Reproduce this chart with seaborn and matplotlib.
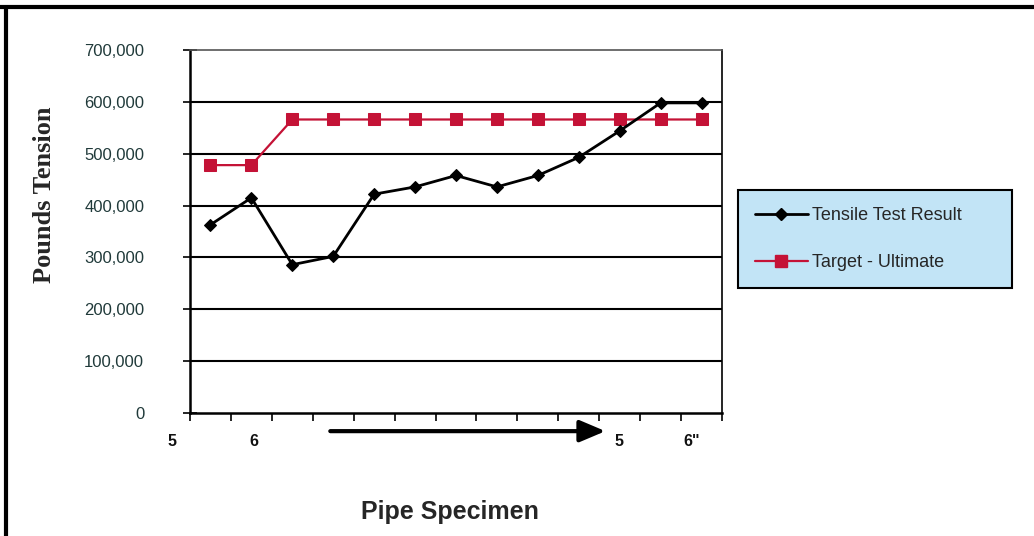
import matplotlib
matplotlib.use("Agg")
import matplotlib.pyplot as plt
import matplotlib.transforms as mtransforms
from matplotlib.lines import Line2D
import numpy as np
import pandas as pd
import seaborn as sns

# ---- data ----
specimen = list(range(13))
tensile = [363000, 415000, 286000, 302000, 422000, 436000, 458000, 436000,
           458000, 493000, 544000, 598000, 598000]
target = [478000, 478000, 566000, 566000, 566000, 566000, 566000, 566000,
          566000, 566000, 566000, 566000, 566000]
series_names = ["Tensile Test Result", "Target - Ultimate"]
y_ticks = [0, 100000, 200000, 300000, 400000, 500000, 600000, 700000]
x_tick_labels = ["5", "6", "5", '6"']
x_tick_pos = [-0.95, 1.05, 9.98, 11.75]

sns.set_theme(style="white")
plt.rcParams['font.family'] = ['Liberation Sans', 'DejaVu Sans']

fig = plt.figure(figsize=(10.34, 5.36), dpi=100)
ax = fig.add_axes([190/1034, 1-413/536, (722-190)/1034, (413-50)/536])

df = pd.DataFrame({"Specimen": specimen, "Tensile": tensile, "Target": target})

red = "#c41236"
sns.lineplot(data=df, x="Specimen", y="Target", ax=ax, color=red, lw=1.6,
             marker="s", markersize=8, markeredgecolor=red, markerfacecolor=red,
             zorder=3)
sns.lineplot(data=df, x="Specimen", y="Tensile", ax=ax, color="black", lw=2.0,
             marker="D", markersize=6.5, markeredgecolor="black",
             markerfacecolor="black", zorder=4)

# gridlines
for v in y_ticks[1:-1]:
    ax.axhline(v, color="black", lw=1.5, zorder=1)

ax.set_yticks(y_ticks)
ax.set_yticklabels([f"{v:,}" for v in y_ticks], fontsize=12, color="#203a3a")
ax.tick_params(axis="y", direction="inout", length=10, width=1.2, color="black",
               pad=28, left=True)

ax.set_xticks(np.arange(-0.5, 13, 1.0))
ax.set_xticklabels([])
ax.tick_params(axis="x", direction="out", length=6, width=1.2,
               color="black", bottom=True)

ax.set_xlim(-0.5, 12.5)
ax.set_ylim(0, 700000)

ax.set_xlabel("")
ax.set_ylabel("")

for s in ["left", "bottom", "right"]:
    ax.spines[s].set_visible(True)
    ax.spines[s].set_color("black")
ax.spines["left"].set_linewidth(1.8)
ax.spines["bottom"].set_linewidth(1.8)
ax.spines["right"].set_linewidth(1.2)
ax.spines["top"].set_visible(True)
ax.spines["top"].set_color("#555555")
ax.spines["top"].set_linewidth(1.2)

trans = mtransforms.blended_transform_factory(ax.transData, ax.transAxes)

# category labels under the axis
for xp, lab in zip(x_tick_pos, x_tick_labels):
    ax.text(xp, -0.078, lab, transform=trans, ha="center", va="center",
            fontsize=11.5, fontweight="bold", color="#111111", clip_on=False)

# arrow below axis
ax.annotate("", xy=(9.72, -0.05), xytext=(2.86, -0.05), xycoords=trans,
            textcoords=trans,
            arrowprops=dict(arrowstyle="-|>,head_length=1.3,head_width=0.55",
                            color="black", lw=3), annotation_clip=False)

# labels
fig.text(45/1034, 1-195/536, "Pounds Tension", rotation=90, ha="center",
         va="center", fontsize=19, fontweight="bold", family="Liberation Serif")
fig.text(450/1034, 1-512/536, "Pipe Specimen", ha="center", va="center",
         fontsize=18, fontweight="bold")

# legend
handles = [Line2D([0], [0], color="black", lw=2, marker="D", markersize=6.5),
           Line2D([0], [0], color=red, lw=1.6, marker="s", markersize=8)]
leg = fig.legend(handles, series_names, loc="upper left",
                 bbox_to_anchor=(738/1034, 1-190/536, (1012-738)/1034, 0.0),
                 mode="expand", borderaxespad=0, fontsize=13, labelspacing=1.65,
                 handlelength=2.9, handletextpad=0.25, borderpad=0.95,
                 fancybox=False, framealpha=1, facecolor="#c2e4f6",
                 edgecolor="black")
leg.get_frame().set_linewidth(1.5)
if ax.get_legend() is not None:
    ax.get_legend().remove()

# outer frame (top and left)
fig.add_artist(Line2D([0, 1], [1-6.5/536, 1-6.5/536], transform=fig.transFigure,
                      color="black", lw=3))
fig.add_artist(Line2D([5.5/1034, 5.5/1034], [0, 1-6.5/536], transform=fig.transFigure,
                      color="black", lw=3))

fig.savefig("out.png", dpi=100)
